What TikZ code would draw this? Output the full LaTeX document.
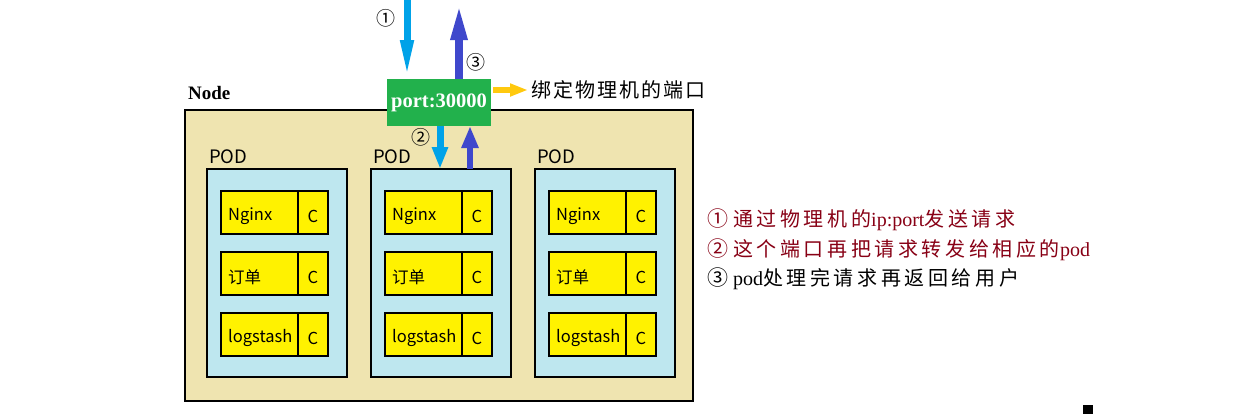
\documentclass[tikz,border=0pt]{standalone}
\usepackage{fontspec}
\setmainfont{Liberation Serif}
\newfontfamily\cjk{Noto Sans CJK SC}
\newfontfamily\cjkls[LetterSpace=18]{Noto Sans CJK SC}
\newfontfamily\cjkbind[LetterSpace=10]{Noto Sans CJK SC}
\usetikzlibrary{arrows.meta}
\definecolor{nodebg}{HTML}{EFE4B0}
\definecolor{podbg}{HTML}{BEE7EF}
\definecolor{ctr}{HTML}{FFF200}
\definecolor{portgreen}{HTML}{22B14C}
\definecolor{lblue}{HTML}{00A2E8}
\definecolor{dblue}{HTML}{3F48CC}
\definecolor{arrowyellow}{HTML}{FFC90E}
\definecolor{darkred}{HTML}{880015}
\begin{document}
\begin{tikzpicture}[x=1pt,y=-1pt,
  box/.style={draw=black,line width=1.2pt,inner sep=0pt,outer sep=0pt},
  nodebox/.style={box,fill=nodebg},
  podbox/.style={box,fill=podbg,minimum width=140pt,minimum height=208pt},
  namebox/.style={box,fill=ctr,minimum width=77pt,minimum height=43pt},
  cbox/.style={box,fill=ctr,minimum width=30pt,minimum height=43pt},
  ctext/.style={inner sep=0pt,font=\cjk\fontsize{16.5}{20}\selectfont},
  podlabel/.style={anchor=west,inner sep=0pt,font=\cjk\fontsize{18.5}{22}\selectfont},
  legend/.style={anchor=west,inner sep=0pt,font=\fontsize{20}{24}\selectfont},
  circ/.style={inner sep=0pt,font=\cjk\fontsize{19}{22}\selectfont}]
\useasboundingbox (0,0) rectangle (1253,416);
\fill[white] (0,0) rectangle (1253,416);
% Node
\node[nodebox,anchor=north west,minimum width=508pt,minimum height=291pt] (node) at (185,110) {};
\node[anchor=west,inner sep=0pt,font=\bfseries\fontsize{19}{22}\selectfont] (nodelbl) at (188,93) {Node};
% pods
\foreach \i/\x in {1/207,2/371,3/535}{
  \node[podbox,anchor=north west] (pod\i) at (\x,169) {};
  \node[podlabel] (podl\i) at (\x+2,157) {POD};
  \foreach \j/\y/\t in {1/191/Nginx,2/252/订单,3/313/logstash}{
    \node[namebox,anchor=north west] (n\i\j) at (\x+14,\y) {};
    \node[ctext,anchor=west] (t\i\j) at ([xshift=7pt,yshift=-3.5pt]n\i\j.west) {\t};
    \node[cbox,anchor=north west] (c\i\j) at (\x+91,\y) {};
    \node[ctext] (ct\i\j) at ([yshift=-3.5pt]c\i\j.center) {C};
  }
}
% port
\node[box,draw=none,fill=portgreen,minimum width=104pt,minimum height=47pt,text=white,font=\bfseries\fontsize{20.5}{24}\selectfont] (port) at (439,102.5) {port:30000};
% arrows
\coordinate (in1) at (407,0);
\coordinate (out3) at (459,3);
\draw[lblue,line width=7pt,-{Triangle[length=39pt,width=12pt]}] (in1) -- (in1 |- port.north);
\draw[dblue,line width=8pt,-{Triangle[length=37pt,width=15pt]}] (out3 |- port.north) -- (out3);
\draw[lblue,line width=7pt,-{Triangle[length=22pt,width=15pt]}] ([xshift=1pt]port.south) -- ([xshift=1pt]port.south |- pod2.north);
\draw[dblue,line width=6pt,-{Triangle[length=22pt,width=16pt]}] ([xshift=31pt]port.south |- pod2.north) -- ([xshift=31pt]port.south);
\coordinate (bindend) at (528,90);
\draw[arrowyellow,line width=6pt,-{Triangle[length=18pt,width=12pt]}] ([xshift=2pt]port.east |- bindend) -- (bindend);
\node[anchor=west,inner sep=0pt,font=\cjkbind\fontsize{20}{24}\selectfont] (bind) at (531,90) {绑定物理机的端口};
% circled numbers
\node[circ] (c1) at (386,18) {①};
\node[circ] (c3) at (476,62) {③};
\node[circ] (c2) at (421,137) {②};
% legend
\node[legend,text=darkred] (l1) at (707,220) {{\cjk\fontsize{21}{24}\selectfont ①}\hspace{5pt}{\cjkls 通过物理机的}ip:port{\cjkls 发送请求}};
\node[legend,text=darkred] (l2) at (707,250) {{\cjk\fontsize{21}{24}\selectfont ②}\hspace{5pt}{\cjkls 这个端口再把请求转发给相应的}pod};
\node[legend] (l3) at (707,279) {{\cjk\fontsize{21}{24}\selectfont ③}\hspace{5pt}pod{\cjkls 处理完请求再返回给用户}};
% small square
\fill[black] (1083,405) rectangle (1093,414);
\end{tikzpicture}
\end{document}
